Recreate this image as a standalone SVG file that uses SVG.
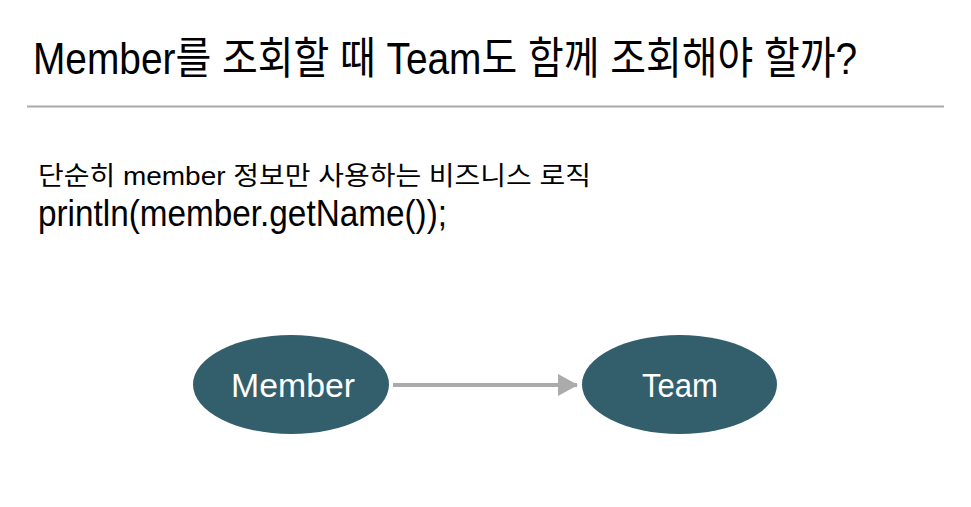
<svg xmlns="http://www.w3.org/2000/svg" width="971" height="507" viewBox="0 0 971 507">
<defs>
<style>
.t{font-family:"Liberation Sans","Noto Sans CJK KR",sans-serif;fill:#000}
.node ellipse{fill:#335e6b}
.node text{font-family:"Liberation Sans","Noto Sans CJK KR",sans-serif;font-size:33px;fill:#fff;text-anchor:middle}
.conn{stroke:#ababab;stroke-width:4;fill:none}
</style>
<marker id="arr" markerUnits="userSpaceOnUse" markerWidth="20" markerHeight="22" refX="19" refY="11" orient="auto">
<path d="M0,0 L20,11 L0,22 Z" fill="#ababab"/>
</marker>
</defs>
<rect width="971" height="507" fill="#fff"/>
<text class="t" x="33" y="74" font-size="44" textLength="824" lengthAdjust="spacingAndGlyphs">Member를 조회할 때 Team도 함께 조회해야 할까?</text>
<line x1="27" y1="106.5" x2="944" y2="106.5" stroke="#aaaaaa" stroke-width="2"/>
<text class="t" x="38" y="185" font-size="26" textLength="553" lengthAdjust="spacingAndGlyphs">단순히 member 정보만 사용하는 비즈니스 로직</text>
<text class="t" x="38" y="226" font-size="36" textLength="409" lengthAdjust="spacingAndGlyphs">println(member.getName());</text>
<g id="connectors">
<line class="conn" x1="393" y1="385" x2="577" y2="385" marker-end="url(#arr)"/>
</g>
<g id="member" class="node">
<ellipse cx="291" cy="384.5" rx="98" ry="49.5"/>
<text x="293" y="397" textLength="124" lengthAdjust="spacingAndGlyphs">Member</text>
</g>
<g id="team" class="node">
<ellipse cx="679.5" cy="384.5" rx="97.5" ry="49.5"/>
<text x="680" y="397" textLength="76" lengthAdjust="spacingAndGlyphs">Team</text>
</g>
</svg>
